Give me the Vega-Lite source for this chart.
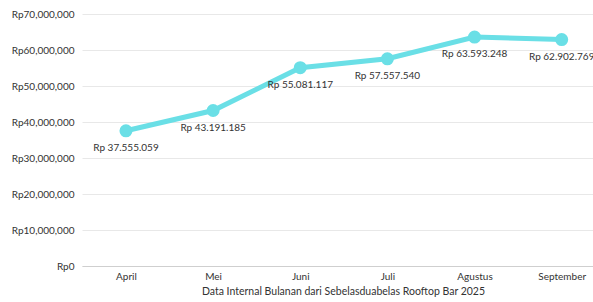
{
  "$schema": "https://vega.github.io/schema/vega-lite/v6.json",
  "width": 511,
  "height": 252,
  "autosize": {"type": "none"},
  "padding": {"left": 82, "top": 14, "right": 0, "bottom": 36},
  "background": "white",
  "config": {
    "view": {"stroke": null},
    "font": "Lato",
    "axis": {"labelFont": "Lato", "titleFont": "Lato", "labelColor": "#333333", "titleColor": "#333333"}
  },
  "data": {
    "values": [
      {"month": "April", "revenue": 37555059, "label": "Rp 37.555.059"},
      {"month": "Mei", "revenue": 43191185, "label": "Rp 43.191.185"},
      {"month": "Juni", "revenue": 55081117, "label": "Rp 55.081.117"},
      {"month": "Juli", "revenue": 57557540, "label": "Rp 57.557.540"},
      {"month": "Agustus", "revenue": 63593248, "label": "Rp 63.593.248"},
      {"month": "September", "revenue": 62902769, "label": "Rp 62.902.769"}
    ]
  },
  "encoding": {
    "x": {
      "field": "month",
      "type": "ordinal",
      "sort": null,
      "scale": {"type": "point", "padding": 0.432, "align": 0.584},
      "axis": {
        "title": "Data Internal Bulanan dari Sebelasduabelas Rooftop Bar 2025",
        "titleFontWeight": "normal",
        "titleFontSize": 10.5,
        "titlePadding": 5,
        "titleX": 261,
        "labelAngle": 0,
        "labelFontSize": 10,
        "labelPadding": 5,
        "ticks": false,
        "domain": true,
        "domainColor": "#cfcfcf",
        "domainWidth": 1,
        "grid": false
      }
    },
    "y": {
      "field": "revenue",
      "type": "quantitative",
      "scale": {"domain": [0, 70000000]},
      "axis": {
        "title": null,
        "values": [0, 10000000, 20000000, 30000000, 40000000, 50000000, 60000000, 70000000],
        "labelExpr": "'Rp' + format(datum.value, ',')",
        "labelFontSize": 10,
        "labelPadding": 8,
        "ticks": false,
        "domain": false,
        "grid": true,
        "gridColor": "#e8e8e8",
        "gridWidth": 1
      }
    }
  },
  "layer": [
    {"mark": {"type": "line", "color": "#6adfe6", "strokeWidth": 5}},
    {"mark": {"type": "point", "filled": true, "opacity": 1, "color": "#6adfe6", "size": 170}},
    {
      "mark": {"type": "text", "dy": 17, "fontSize": 10, "color": "#333333", "font": "Lato"},
      "encoding": {"text": {"field": "label"}}
    }
  ]
}
